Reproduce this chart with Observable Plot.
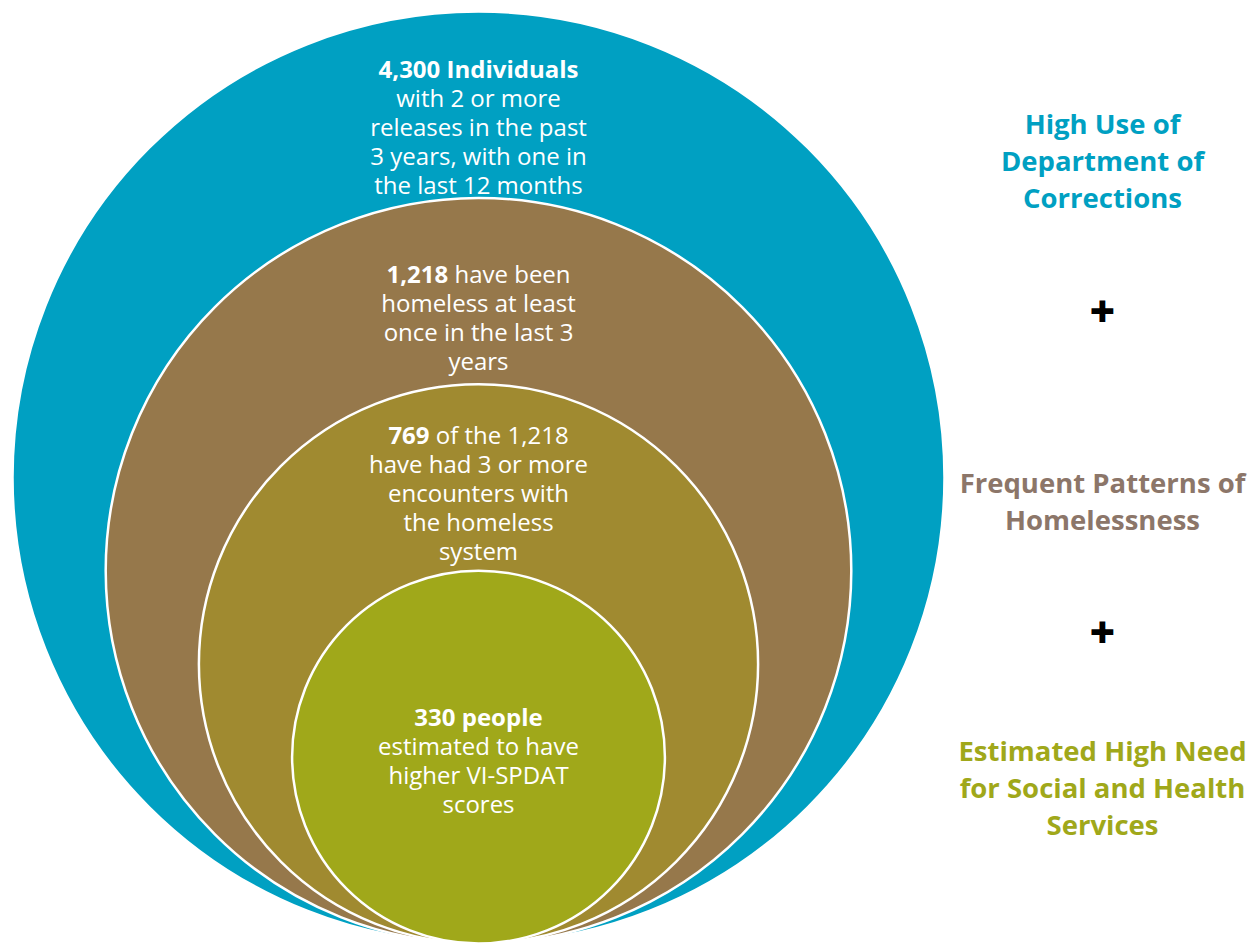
<!DOCTYPE html>
<html>
<head>
<meta charset="utf-8">
<script src="https://cdn.jsdelivr.net/npm/d3@7"></script>
<script src="https://cdn.jsdelivr.net/npm/@observablehq/plot@0.6"></script>
<style>
  html, body { margin: 0; padding: 0; background: #ffffff; }
  #chart svg { display: block; }
</style>
</head>
<body>
<div id="chart"></div>
<script>
// ---- data ----
const groups = [
  "Department of Corrections releases",
  "Homeless in last 3 years",
  "3+ homeless system encounters",
  "Higher VI-SPDAT scores"
];
const counts = [4300, 1218, 769, 330];
const boldParts = ["4,300 Individuals", "1,218", "769", "330 people"];
const circleLabels = [
  "4,300 Individuals\nwith 2 or more\nreleases in the past\n3 years, with one in\nthe last 12 months",
  "1,218 have been\nhomeless at least\nonce in the last 3\nyears",
  "769 of the 1,218\nhave had 3 or more\nencounters with\nthe homeless\nsystem",
  "330 people\nestimated to have\nhigher VI-SPDAT\nscores"
];
const circleColors = ["#00a0c2", "#96784b", "#a08a30", "#a0a81a"];
const sideLabels = [
  "High Use of\nDepartment of\nCorrections",
  "Frequent Patterns of\nHomelessness",
  "Estimated High Need\nfor Social and Health\nServices"
];
const sideColors = ["#00a0c2", "#8c7669", "#a0a81a"];
const connectors = ["+", "+"];

// ---- layout (pixels) ----
const W = 1260, H = 944;
const layout = {
  cx: 478, bottom: 943, outerR: 466, step: 0.2,
  labelOffset: [115, 119, 108, 190],
  sideX: 1102, sideY: [159, 499, 786], plusY: [312, 633]
};
const radius = i => layout.outerR * (1 - layout.step * i);

const circles = groups.map((g, i) => ({
  group: g, count: counts[i], label: circleLabels[i], rank: i,
  r: radius(i), cy: layout.bottom - radius(i),
  ly: layout.bottom - 2 * radius(i) + layout.labelOffset[i]
}));
const side = sideLabels.map((t, i) => ({text: t, color: sideColors[i], y: layout.sideY[i]}));
const plus = connectors.map((t, i) => ({text: t, y: layout.plusY[i]}));

const font = "'Open Sans', Lato, sans-serif";

const chart = Plot.plot({
  width: W, height: H,
  margin: 0,
  x: {type: "identity", axis: null},
  y: {type: "identity", axis: null},
  r: {type: "identity"},
  color: {domain: groups, range: circleColors},
  style: {fontFamily: font, background: "#ffffff"},
  marks: [
    Plot.dot(circles, {
      x: () => layout.cx, y: "cy", r: "r", fill: "group",
      stroke: "white", strokeWidth: 2.5, fillOpacity: 1
    }),
    Plot.text(circles, {
      x: () => layout.cx, y: "ly", text: "label",
      fill: "white", fontSize: 24, lineHeight: 29 / 24, lineAnchor: "middle",
      textAnchor: "middle", fontFamily: font
    }),
    Plot.text(side, {
      x: () => layout.sideX, y: "y", text: "text",
      fill: d => d.color, fontSize: 27.5, fontWeight: "bold",
      lineHeight: 37 / 27.5, lineAnchor: "middle", fontFamily: font
    }),
    Plot.text(plus, {
      x: () => layout.sideX, y: "y", text: "text",
      fill: "black", fontSize: 44, fontWeight: 800, lineAnchor: "middle", fontFamily: font
    })
  ]
});

// bold prefixes inside the circle labels
chart.querySelectorAll("text").forEach(t => {
  const first = t.querySelector("tspan");
  if (!first) return;
  const s = first.textContent;
  const b = boldParts.find(p => s.startsWith(p));
  if (!b) return;
  first.textContent = "";
  const bt = document.createElementNS("http://www.w3.org/2000/svg", "tspan");
  bt.setAttribute("font-weight", "bold");
  bt.textContent = b;
  first.appendChild(bt);
  const rest = s.slice(b.length);
  if (rest) first.appendChild(document.createTextNode(rest));
});

document.getElementById("chart").appendChild(chart);
</script>
</body>
</html>
